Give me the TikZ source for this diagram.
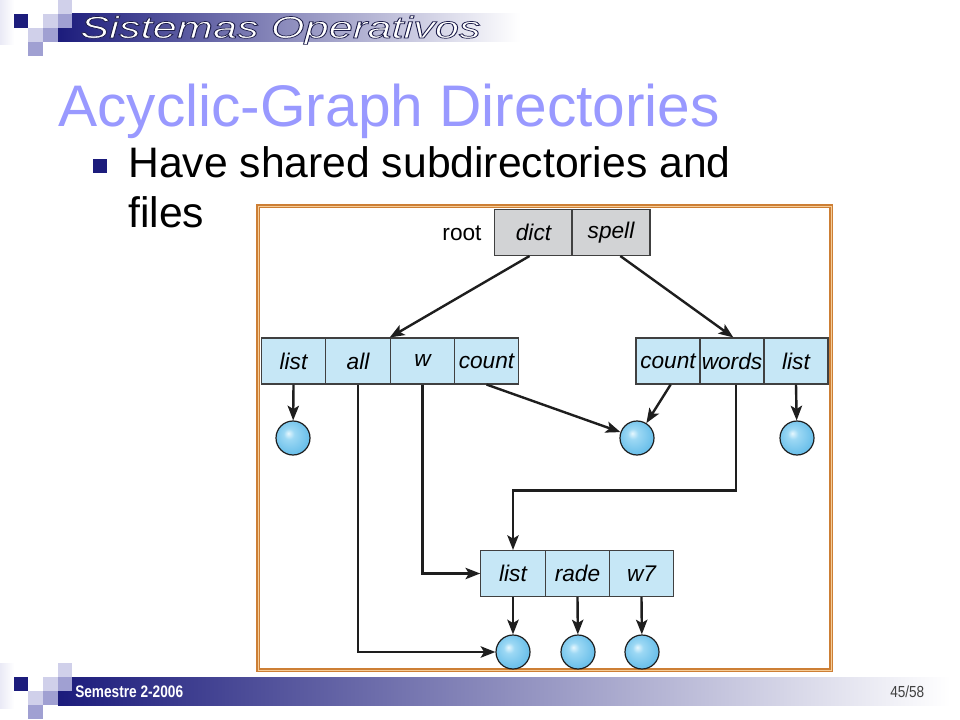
\documentclass[tikz,border=0pt]{standalone}
\usepackage{fontspec}
\setmainfont{Liberation Sans}
\usetikzlibrary{arrows.meta}
\definecolor{navy}{HTML}{1C1C7C}
\definecolor{barmid}{HTML}{5A5A96}
\definecolor{footmid}{HTML}{9A9ABC}
\definecolor{sqlight}{HTML}{D0D0EA}
\definecolor{sqmed}{HTML}{A0A0D2}
\definecolor{titlec}{HTML}{9999FF}
\definecolor{cellblue}{HTML}{C6E7F6}
\definecolor{cellgray}{HTML}{D2D3D5}
\definecolor{linec}{HTML}{1E1E1E}
\definecolor{framec}{HTML}{CD7F35}
\definecolor{framel}{HTML}{F6CD98}
\definecolor{bubhi}{HTML}{E6F7FE}
\definecolor{bubmid}{HTML}{9CD8F4}
\definecolor{bubout}{HTML}{62BBE8}
\pgfdeclareradialshading{bubble}{\pgfpoint{-7bp}{7bp}}{color(0bp)=(bubhi); color(8bp)=(bubmid); color(30bp)=(bubout); color(50bp)=(bubout)}
\tikzset{
  cellb/.style={draw=linec!85, line width=0.8pt, fill=cellblue, minimum width=48.4pt, minimum height=34.5pt, inner sep=0pt, font=\fontsize{17}{20}\selectfont\itshape},
  cellg/.style={cellb, fill=cellgray, minimum width=58pt},
  filec/.style={circle, draw=linec, line width=0.9pt, shading=bubble, minimum size=25.5pt, inner sep=0pt},
  arr/.style={draw=linec, line width=1.8pt, -{Stealth[length=11pt,width=8.5pt,inset=2.5pt]}}
}
\begin{document}
\begin{tikzpicture}[x=0.75pt,y=-0.75pt]
\useasboundingbox (0,0) rectangle (960,720);
\fill[white] (0,0) rectangle (960,720);
% header and footer bars
\shade[left color=navy, middle color=barmid, right color=white] (58,14) rectangle (520,42);
\shade[left color=navy, middle color=footmid, right color=white] (58,677) rectangle (950,705);
\foreach \yo in {0,663}{
  \shade[left color=sqlight!45, right color=white] (0,\yo) rectangle (14,\yo+45);
  \fill[sqlight] (58,\yo) rectangle (72,\yo+14);
  \fill[navy] (14,\yo+14) rectangle (28,\yo+28);
  \fill[sqlight] (43,\yo+14) rectangle (58,\yo+28);
  \fill[sqmed] (58,\yo+14) rectangle (72,\yo+28);
  \fill[sqlight] (28,\yo+28) rectangle (43,\yo+42);
  \fill[sqmed] (43,\yo+28) rectangle (58,\yo+42);
  \fill[sqmed] (28,\yo+42) rectangle (43,\yo+56);
}
\node[anchor=base west, inner sep=0pt] (hdr) at (80,38) {\scalebox{1.48}[1.05]{\fontsize{22}{26}\selectfont\itshape\color{white}\special{pdf:literal direct 0.12 0.12 0.3 RG 0.5 w 2 Tr}Sistemas Operativos\special{pdf:literal direct 0 Tr}}};
\node[anchor=base west, inner sep=0pt, text=white] (sem) at (75,697) {\scalebox{0.82}[1]{\fontsize{12.5}{14}\selectfont\bfseries Semestre 2-2006}};
\node[anchor=base west, inner sep=0pt, text=black!75] (pg) at (890,697) {\scalebox{0.85}[1]{\fontsize{12}{14}\selectfont 45/58}};
% title and bullet
\node[anchor=base west, inner sep=0pt, text=titlec] (title) at (58,127) {\fontsize{44}{50}\selectfont Acyclic-Graph Directories};
\fill[navy] (93,159) rectangle (107,173);
\node[anchor=base west, inner sep=0pt] (b1) at (128,178) {\fontsize{32}{38}\selectfont Have shared subdirectories and};
\node[anchor=base west, inner sep=0pt] (b2) at (128,228) {\fontsize{32}{38}\selectfont files};
% frame
\draw[framec, line width=2.4pt] (258,206) rectangle (831,670);
\draw[framel, line width=0.7pt] (258,206) rectangle (831,670);
% root
\node[inner sep=0pt, font=\fontsize{17}{20}\selectfont] (root) at (462,233) {root};
\node[cellg] (dict) at (533.5,232.5) {dict};
\node[cellg, minimum width=58.5pt] (spell) at (611,232.5) {spell};
% left directory
\node[cellb] (lList) at (293.5,361) {list};
\node[cellb] (lAll) at (358,361) {all};
\node[cellb] (lW) at (422.5,361) {w};
\node[cellb] (lCount) at (486.5,361) {count};
% right directory
\node[cellb, minimum width=48pt] (rCount) at (668,361) {count};
\node[cellb, minimum width=48pt] (rWords) at (732,361) {words};
\node[cellb, minimum width=48pt] (rList) at (796,361) {list};
% bottom directory
\node[cellb] (bList) at (513,573.5) {list};
\node[cellb] (bRade) at (577.5,573.5) {rade};
\node[cellb] (bW7) at (641.5,573.5) {w7};
% files
\node[filec] (c1) at (293,438) {};
\node[filec] (c2) at (637,438) {};
\node[filec] (c3) at (797,438) {};
\node[filec] (c4) at (513,652) {};
\node[filec] (c5) at (578,652) {};
\node[filec] (c6) at (642,652) {};
% connectors
\draw[arr] ([xshift=-3]dict.south) -- (lW.north west);
\draw[arr] ([xshift=7]spell.south) -- ([xshift=1]rWords.north);
\draw[arr] (lList.south) -- (c1);
\draw[arr] (lCount.south) -- (c2);
\draw[arr] ([xshift=2]rCount.south) -- (c2);
\draw[arr] (rList.south) -- (c3);
\draw[arr] ([xshift=3]rWords.south) -- ++(0,106) -| (bList.north);
\draw[arr] (lW.south) |- (bList.west);
\draw[arr] (lAll.south) |- (c4);
\draw[arr] (bList.south) -- (c4);
\draw[arr] (bRade.south) -- (c5);
\draw[arr] (bW7.south) -- (c6);
\end{tikzpicture}
\end{document}
